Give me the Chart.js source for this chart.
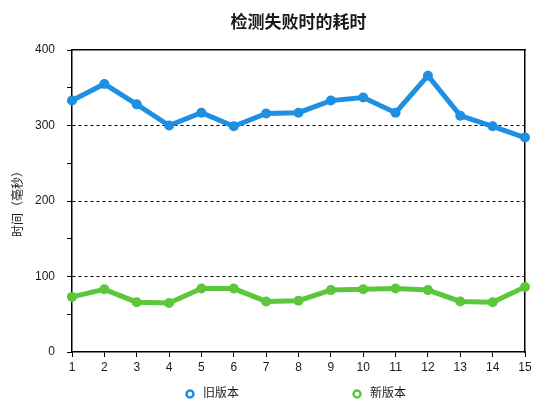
<!DOCTYPE html>
<html>
<head>
<meta charset="utf-8">
<script src="https://cdn.jsdelivr.net/npm/chart.js@4/dist/chart.umd.min.js"></script>
<style>
  html, body { margin: 0; padding: 0; background: #fff; }
  #wrap { width: 556px; height: 411px; }
</style>
</head>
<body>
<div id="wrap"><canvas id="chart"></canvas></div>
<script>
// Data
const runs = ['1', '2', '3', '4', '5', '6', '7', '8', '9', '10', '11', '12', '13', '14', '15'];
const oldVersion = [333, 355, 328, 300, 317, 299, 316, 317, 333, 337, 317, 366, 313, 299, 284];
const newVersion = [73, 83, 66, 65, 84, 84, 67, 68, 82, 83, 84, 82, 67, 66, 86];
const seriesNames = ['旧版本', '新版本'];
const seriesColors = ['#1e8fe1', '#5cc73b'];
const chartTitle = '检测失败时的耗时';

const FONT = "'Liberation Sans', 'Noto Sans CJK SC', sans-serif";
const INK = '#1a1a1a';

// Title + legend drawn by hand: title sits over the plot box, legend items spread wide
const decorations = {
    id: 'decorations',
    afterDraw(chart) {
        const ctx = chart.ctx;
        const area = chart.chartArea;
        ctx.save();

        ctx.font = 'bold 17px ' + FONT;
        ctx.fillStyle = INK;
        ctx.textAlign = 'center';
        ctx.textBaseline = 'middle';
        ctx.fillText(chartTitle, (area.left + area.right) / 2, 23);

        const y = 394;
        const xs = [190, 357];
        ctx.font = '12px ' + FONT;
        ctx.textAlign = 'left';
        chart.data.datasets.forEach((ds, i) => {
            ctx.beginPath();
            ctx.arc(xs[i], y, 3.5, 0, Math.PI * 2);
            ctx.fillStyle = '#fff';
            ctx.fill();
            ctx.lineWidth = 2.5;
            ctx.strokeStyle = ds.borderColor;
            ctx.stroke();
            ctx.fillStyle = INK;
            ctx.fillText(ds.label, xs[i] + 13, y);
        });
        ctx.restore();
    }
};

const makeSet = (label, data, color) => ({
    label: label,
    data: data,
    borderColor: color,
    backgroundColor: color,
    borderWidth: 5,
    pointRadius: 5,
    pointBorderWidth: 0,
    pointBackgroundColor: color,
    tension: 0
});

new Chart(document.getElementById('chart'), {
    type: 'line',
    data: {
        labels: runs,
        datasets: [
            makeSet(seriesNames[0], oldVersion, seriesColors[0]),
            makeSet(seriesNames[1], newVersion, seriesColors[1])
        ]
    },
    options: {
        responsive: true,
        maintainAspectRatio: false,
        animation: false,
        layout: { padding: { left: 0, right: 31, top: 50, bottom: 29 } },
        plugins: {
            legend: { display: false },
            tooltip: { enabled: false },
            title: { display: false }
        },
        scales: {
            x: {
                offset: false,
                grid: {
                    drawOnChartArea: false,
                    tickLength: 5,
                    tickColor: '#000',
                    tickWidth: 1
                },
                border: { color: '#000', width: 1.5 },
                ticks: { color: INK, padding: 3, font: { size: 12, family: FONT }, maxRotation: 0 },
                afterFit(scale) { scale.height = 30; }
            },
            xTop: {
                position: 'top',
                type: 'category',
                offset: false,
                grid: { drawOnChartArea: false, drawTicks: false },
                border: { color: '#000', width: 1.5 },
                ticks: { display: false },
                afterFit(scale) { scale.height = 0; }
            },
            y: {
                min: 0,
                max: 400,
                ticks: {
                    stepSize: 50,
                    color: INK,
                    padding: 12,
                    font: { size: 12, family: FONT },
                    callback: v => (v % 100 === 0 ? v : '')
                },
                grid: {
                    color: c => (c.tick && c.tick.value % 100 === 0 && c.tick.value > 0 && c.tick.value < 400) ? '#000' : 'rgba(0,0,0,0)',
                    lineWidth: 1,
                    tickColor: '#000',
                    tickLength: 5,
                    tickBorderDash: []
                },
                border: { color: '#000', width: 1.5, dash: [3, 3] },
                title: {
                    display: true,
                    text: '时间（毫秒）',
                    color: INK,
                    font: { size: 12, family: FONT },
                    padding: { top: 11, bottom: 0 }
                },
                afterFit(scale) { scale.width = 72; }
            },
            yRight: {
                position: 'right',
                min: 0,
                max: 400,
                grid: { drawOnChartArea: false, drawTicks: false },
                border: { color: '#000', width: 1.5 },
                ticks: { display: false },
                afterFit(scale) { scale.width = 0; }
            }
        }
    },
    plugins: [decorations]
});
</script>
</body>
</html>
